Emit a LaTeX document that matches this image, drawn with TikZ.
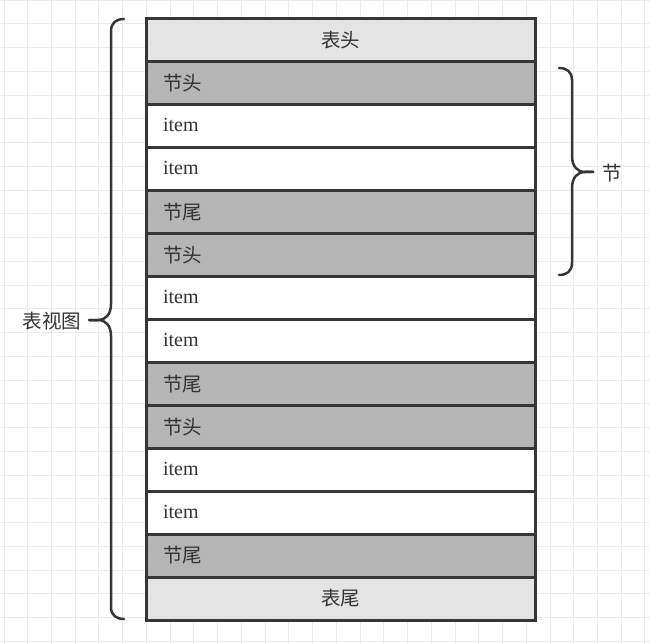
\documentclass[tikz,border=0pt]{standalone}
\usepackage{fontspec}
\setmainfont{Liberation Serif}
\newfontfamily\cjk{Noto Sans CJK SC}
\definecolor{gridc}{HTML}{EBEBEB}
\definecolor{linec}{HTML}{363636}
\definecolor{headc}{HTML}{E4E4E4}
\definecolor{secc}{HTML}{B5B5B5}
\definecolor{txtc}{HTML}{333333}
\tikzset{
  rowbox/.style={draw=linec, line width=3pt, minimum width=389pt, minimum height=42.93pt,
    text width=355pt, inner xsep=17pt, inner ysep=0pt, align=left, font=\fontsize{20}{22}\selectfont,
    text=txtc, text height=14.5pt, text depth=3.5pt, anchor=center},
  cjkrow/.style={text height=16.5pt, text depth=2pt, font=\fontsize{19.5}{22}\selectfont\cjk},
  headrow/.style={rowbox, cjkrow, fill=headc, align=center},
  secrow/.style={rowbox, cjkrow, fill=secc},
  itemrow/.style={rowbox, fill=white},
  bracec/.style={draw=linec, line width=2.5pt, line cap=round, line join=round},
  lbl/.style={font=\fontsize{19.5}{22}\selectfont\cjk, text=txtc, inner sep=0pt}
}
\begin{document}
\begin{tikzpicture}[x=1pt, y=-1pt]
\useasboundingbox (0,0) rectangle (650,644);
\fill[white] (0,0) rectangle (650,644);
% grid
\foreach \i in {0,...,27} \draw[gridc, line width=1pt] ({4+23.74*\i},0) -- ({4+23.74*\i},644);
\foreach \k in {0,...,27} \draw[gridc, line width=1pt] (0,{0.26+23.74*\k}) -- (650,{0.26+23.74*\k});
% rows
\def\rx{340.5}
\node[headrow] (r0) at (\rx,{19+42.93*0.5}) {表头};
\node[secrow]  (r1) at (\rx,{19+42.93*1.5}) {节头};
\node[itemrow] (r2) at (\rx,{19+42.93*2.5}) {item};
\node[itemrow] (r3) at (\rx,{19+42.93*3.5}) {item};
\node[secrow]  (r4) at (\rx,{19+42.93*4.5}) {节尾};
\node[secrow]  (r5) at (\rx,{19+42.93*5.5}) {节头};
\node[itemrow] (r6) at (\rx,{19+42.93*6.5}) {item};
\node[itemrow] (r7) at (\rx,{19+42.93*7.5}) {item};
\node[secrow]  (r8) at (\rx,{19+42.93*8.5}) {节尾};
\node[secrow]  (r9) at (\rx,{19+42.93*9.5}) {节头};
\node[itemrow] (r10) at (\rx,{19+42.93*10.5}) {item};
\node[itemrow] (r11) at (\rx,{19+42.93*11.5}) {item};
\node[secrow]  (r12) at (\rx,{19+42.93*12.5}) {节尾};
\node[headrow] (r13) at (\rx,{19+42.93*13.5}) {表尾};
% left brace
\draw[bracec] (124,19) .. controls (116,19) and (111,23) .. (111,31) -- (111,304)
  .. controls (111,314) and (106,320) .. (98,320) -- (89,320);
\draw[bracec] (89,320) -- (98,320) .. controls (106,320) and (111,326) .. (111,336)
  -- (111,607) .. controls (111,615) and (116,619) .. (124,619);
\node[lbl] (tv) at (52,321) {表视图};
% right brace
\draw[bracec] (559,68) .. controls (567,68) and (572,72) .. (572,80) -- (572,156)
  .. controls (572,166) and (577,172) .. (585,172) -- (593,172);
\draw[bracec] (593,172) -- (585,172) .. controls (577,172) and (572,178) .. (572,188)
  -- (572,263) .. controls (572,271) and (567,275) .. (559,275);
\node[lbl] (jie) at (612,173) {节};
\end{tikzpicture}
\end{document}
